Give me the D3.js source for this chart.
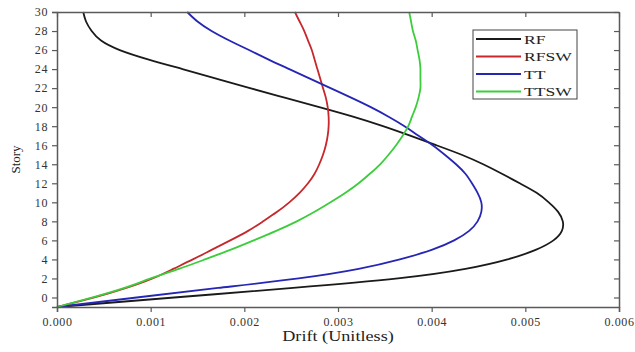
<!DOCTYPE html>
<html>
<head>
<meta charset="utf-8">
<script src="https://cdn.jsdelivr.net/npm/d3@7"></script>
<style>
  body { margin: 0; background: #fff; }
  text { font-family: "Liberation Serif", "DejaVu Serif", serif; }
</style>
</head>
<body>
<svg id="chart"></svg>
<script>
const width = 635;
const height = 352;

// story levels shared by all series
const stories = [-1, 0, 1, 2, 3, 4, 5, 6, 7, 8, 9, 10, 11, 12, 13, 14, 15,
  16, 17, 18, 19, 20, 21, 22, 23, 24, 25, 26, 27, 28, 29, 30];

// drift at each story
const rfDrift = [0, 0.00125, 0.00252, 0.00364, 0.00436, 0.00481, 0.00511, 0.0053, 0.00539, 0.0054,
  0.00535, 0.00525, 0.00512, 0.00494, 0.00475, 0.00455, 0.00432, 0.00405, 0.00377, 0.00348, 0.00316,
  0.0028, 0.00243, 0.00206, 0.0017, 0.00134, 0.00098, 0.00067, 0.00047, 0.00037, 0.00031, 0.00028];
const rfswDrift = [0, 0.0004, 0.00074, 0.00102, 0.00124, 0.00145, 0.00165, 0.00185, 0.00204, 0.0022,
  0.00235, 0.00248, 0.00259, 0.00268, 0.00275, 0.0028, 0.00284, 0.00287, 0.00289, 0.0029, 0.0029,
  0.00289, 0.00287, 0.00284, 0.00281, 0.00278, 0.00275, 0.00272, 0.00268, 0.00264, 0.00259, 0.00254];
const ttDrift = [0, 0.00085, 0.00172, 0.00258, 0.00322, 0.00366, 0.004, 0.00424, 0.0044, 0.00449,
  0.00453, 0.00453, 0.00449, 0.00443, 0.00436, 0.00426, 0.00414, 0.00401, 0.00386, 0.00371, 0.00354,
  0.00335, 0.00314, 0.00292, 0.0027, 0.00248, 0.00226, 0.00205, 0.00184, 0.00165, 0.0015, 0.00139];
const ttswDrift = [0, 0.00038, 0.00072, 0.001, 0.0013, 0.00158, 0.00185, 0.0021, 0.00234, 0.00256,
  0.00275, 0.00292, 0.00308, 0.00322, 0.00334, 0.00345, 0.00354, 0.00362, 0.00369, 0.00375, 0.00379,
  0.00383, 0.00386, 0.00388, 0.00388, 0.00388, 0.00387, 0.00385, 0.00383, 0.0038, 0.00378, 0.00376];

const seriesNames = ["RF", "RFSW", "TT", "TTSW"];
const seriesColors = ["#1a1a1a", "#c6282b", "#2626b4", "#3ccd3c"];
const seriesDrift = [rfDrift, rfswDrift, ttDrift, ttswDrift];

const xTicks = [0, 0.001, 0.002, 0.003, 0.004, 0.005, 0.006];
const yTicks = [0, 2, 4, 6, 8, 10, 12, 14, 16, 18, 20, 22, 24, 26, 28, 30];

const margin = {top: 12, right: 16, bottom: 45, left: 57};

const svg = d3.select("#chart")
    .attr("width", width)
    .attr("height", height);

const x = d3.scaleLinear().domain([0, 0.006]).range([margin.left, width - margin.right]);
const y = d3.scaleLinear().domain([-1, 30]).range([height - margin.bottom, margin.top]);

const axisColor = "#5a5a5a";

// curves
const line = d3.line()
    .x(d => x(d[0]))
    .y(d => y(d[1]))
    .curve(d3.curveNatural);

svg.selectAll("path.series")
    .data(seriesDrift.map(drift => drift.map((v, i) => [v, stories[i]])))
    .enter()
    .append("path")
    .attr("class", "series")
    .attr("d", line)
    .attr("fill", "none")
    .attr("stroke", (d, i) => seriesColors[i])
    .attr("stroke-width", 1.8);

// axes
function styleAxis(g) {
    g.select(".domain").attr("stroke", axisColor).attr("stroke-width", 1.5);
    g.selectAll(".tick line").attr("stroke", axisColor).attr("stroke-width", 1.2);
    g.selectAll(".tick text")
        .attr("fill", "#333")
        .style("font-size", "12px")
        .style("letter-spacing", "0.6px")
        .style("font-family", "'Liberation Serif', serif");
}

svg.append("g")
    .attr("transform", `translate(0,${height - margin.bottom})`)
    .call(d3.axisBottom(x).tickValues(xTicks).tickFormat(d3.format(".3f")).tickSizeOuter(0).tickSize(5).tickPadding(5))
    .call(styleAxis);

svg.append("g")
    .attr("transform", `translate(0,${margin.top})`)
    .call(d3.axisTop(x).tickValues(xTicks).tickFormat("").tickSizeOuter(0).tickSizeInner(-5))
    .call(styleAxis);

svg.append("g")
    .attr("transform", `translate(${margin.left},0)`)
    .call(d3.axisLeft(y).tickValues(yTicks).tickSizeOuter(0).tickSize(5).tickPadding(4))
    .call(styleAxis);

svg.append("g")
    .attr("transform", `translate(${width - margin.right},0)`)
    .call(d3.axisRight(y).tickValues(yTicks).tickFormat("").tickSizeOuter(0).tickSizeInner(-5))
    .call(styleAxis);

// axis titles (the source text is a bit stretched sideways)
svg.append("text")
    .attr("transform", `translate(${(x(0) + x(0.006)) / 2},341) scale(1.3,1)`)
    .attr("text-anchor", "middle")
    .attr("fill", "#222")
    .style("font-size", "14px")
    .text("Drift (Unitless)");

svg.append("text")
    .attr("transform", `translate(20,${y(14.5)}) rotate(-90)`)
    .attr("text-anchor", "middle")
    .attr("fill", "#222")
    .style("font-size", "13px")
    .text("Story");

// legend
const legend = svg.append("g").attr("transform", "translate(473,30)");
legend.append("rect")
    .attr("width", 104)
    .attr("height", 69)
    .attr("fill", "#fff")
    .attr("stroke", "#444")
    .attr("stroke-width", 1);

const items = legend.selectAll("g.item")
    .data(seriesNames)
    .enter()
    .append("g")
    .attr("class", "item")
    .attr("transform", (d, i) => `translate(0,${9 + i * 17.5})`);

items.append("line")
    .attr("x1", 3)
    .attr("x2", 48)
    .attr("stroke", (d, i) => seriesColors[i])
    .attr("stroke-width", 1.8);

items.append("text")
    .attr("transform", "translate(51,4.5) scale(1.35,1)")
    .attr("fill", "#222")
    .style("font-size", "13px")
    .text(d => d);
</script>
</body>
</html>
